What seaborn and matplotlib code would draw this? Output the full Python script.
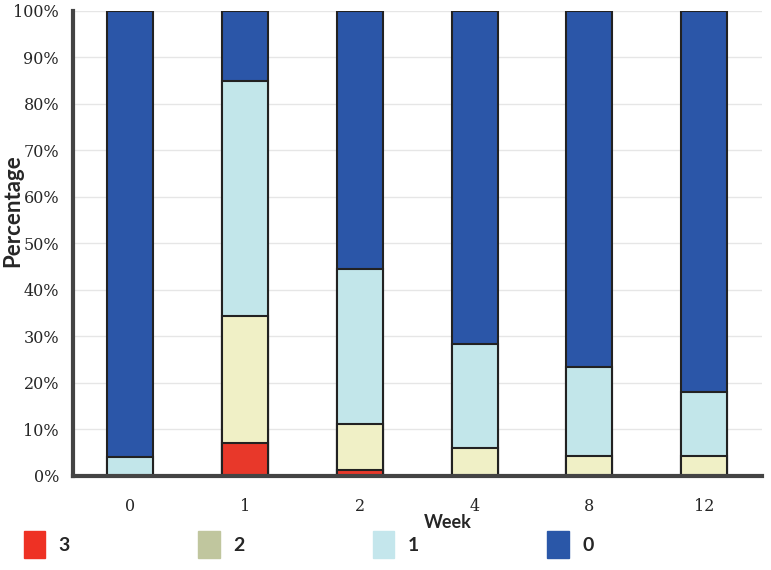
import matplotlib
matplotlib.use("Agg")
import matplotlib.pyplot as plt
import matplotlib.patches as mpatches
import pandas as pd
import seaborn as sns

# values (percent of patients per score)
weeks = ["0", "1", "2", "4", "8", "12"]
score3 = [0.0, 7.0, 1.3, 0.0, 0.0, 0.0]
score2 = [0.0, 27.4, 9.9, 6.0, 4.3, 4.2]
score1 = [4.0, 50.6, 33.3, 22.4, 19.1, 13.8]
score0 = [96.0, 15.0, 55.5, 71.6, 76.6, 82.0]

scores = ["3", "2", "1", "0"]
colors = {"3": "#E8382A", "2": "#F0F0C6", "1": "#C2E6EA", "0": "#2B56A8"}
legend_colors = {"3": "#EE3124", "2": "#C0C69E", "1": "#C4E6EC", "0": "#2A57A8"}

df = pd.DataFrame({"week": weeks, "3": score3, "2": score2, "1": score1, "0": score0})
# cumulative heights so the stacks can be drawn as overlaid bars
df["c3"] = df["3"]
df["c2"] = df["c3"] + df["2"]
df["c1"] = df["c2"] + df["1"]
df["c0"] = df["c1"] + df["0"]

sns.set_style("white")
fig = plt.figure(figsize=(7.71, 5.70), dpi=100)
ax = fig.add_axes([0.0947, 0.165, 0.893, 0.816])

for i in range(0, 101, 10):
    ax.axhline(i, color="#E6E6E6", lw=1, zorder=0)

for s in ["0", "1", "2", "3"]:
    sns.barplot(data=df, x="week", y="c" + s, color=colors[s], width=0.4,
                edgecolor="#222222", linewidth=1.5, saturation=1, ax=ax, zorder=2)

ax.set_xlim(-0.5, 5.5)
ax.set_ylim(0, 100)
ax.set_yticks(range(0, 101, 10))
ax.set_yticklabels([f"{v}%" for v in range(0, 101, 10)], family="DejaVu Serif", fontsize=11.5)
ax.set_xticks(range(6))
ax.set_xticklabels(weeks, family="DejaVu Serif", fontsize=11.5)
ax.set_xticks([i - 0.5 for i in range(7)], minor=True)
ax.tick_params(axis="x", which="major", length=0, pad=16)
ax.tick_params(axis="x", which="minor", length=7, width=3, color="#444444", direction="out")
ax.tick_params(axis="y", length=6, width=3, color="#444444", direction="out", pad=4)

for side in ["top", "right"]:
    ax.spines[side].set_visible(False)
for side in ["left", "bottom"]:
    ax.spines[side].set_color("#444444")
    ax.spines[side].set_linewidth(3)

ax.set_xlabel("Week", family="Lato", fontweight="bold", fontsize=13, labelpad=0)
ax.xaxis.set_label_coords(0.545, -0.082)
ax.set_ylabel("Percentage", family="Lato", fontweight="bold", fontsize=16, labelpad=2)
ax.yaxis.set_label_coords(-0.073, 0.57)

handles = [mpatches.Patch(color=legend_colors[s], label=s) for s in scores]
fig.legend(handles=handles, loc="lower left", bbox_to_anchor=(0.008, -0.01), ncol=4,
           frameon=False, handlelength=1.1, handleheight=1.8, handletextpad=0.7,
           columnspacing=6.6, prop={"family": "Lato", "weight": "bold", "size": 14})

fig.savefig("out.png", dpi=100)
